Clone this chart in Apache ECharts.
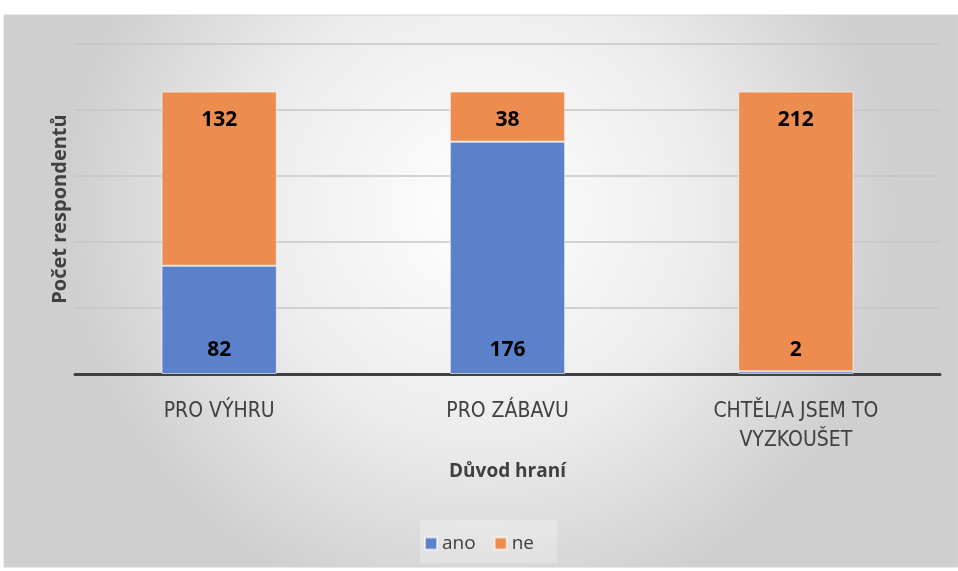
<!DOCTYPE html>
<html>
<head>
<meta charset="utf-8">
<script src="https://cdn.jsdelivr.net/npm/echarts@6/dist/echarts.min.js"></script>
<style>
  html, body { margin: 0; padding: 0; background: #fff; }
  #chart { width: 958px; height: 571px; }
</style>
</head>
<body>
<div id="chart"></div>
<script>
// data
const categories = ['PRO VÝHRU', 'PRO ZÁBAVU', 'CHTĚL/A JSEM TO\nVYZKOUŠET'];
const anoValues = [82, 176, 2];
const neValues = [132, 38, 212];

const myChart = echarts.init(document.getElementById('chart'));

const labelFont = 'Open Sans, Noto Sans, sans-serif';

const option = {
  animation: false,
  graphic: [
    {
      type: 'rect',
      z: -10,
      shape: { x: 4, y: 15, width: 954, height: 552 },
      style: {
        fill: {
          type: 'radial', x: 0.5, y: 0.35, r: 0.75,
          colorStops: [
            { offset: 0, color: '#ffffff' },
            { offset: 0.55, color: '#ececec' },
            { offset: 1, color: '#cfcfcf' }
          ]
        },
        stroke: '#d4d4d4',
        lineWidth: 1
      }
    },
    {
      type: 'rect',
      z: -5,
      shape: { x: 420, y: 520, width: 137, height: 43 },
      style: { fill: 'rgba(255,255,255,0.25)' }
    }
  ],
  grid: { left: 75, right: 18, top: 44, bottom: 197 },
  legend: {
    bottom: 13,
    left: 'center',
    itemWidth: 12,
    itemHeight: 12,
    itemGap: 18,
    icon: 'rect',
    textStyle: { fontSize: 19, color: '#404040', fontFamily: labelFont },
    data: ['ano', 'ne']
  },
  xAxis: {
    type: 'category',
    data: categories,
    name: 'Důvod hraní',
    nameLocation: 'middle',
    nameGap: 88,
    nameTextStyle: { fontSize: 19, fontWeight: 'bold', color: '#404040', fontFamily: labelFont },
    axisLine: { lineStyle: { color: '#404040', width: 3 } },
    axisTick: { show: false },
    axisLabel: {
      fontSize: 21,
      color: '#404040',
      margin: 23,
      lineHeight: 29,
      fontFamily: 'Liberation Sans Narrow, DejaVu Sans Condensed, sans-serif'
    }
  },
  yAxis: {
    type: 'value',
    min: 0,
    max: 250,
    interval: 50,
    name: 'Počet respondentů',
    nameLocation: 'middle',
    nameGap: 5,
    nameTextStyle: { fontSize: 20, fontWeight: 'bold', color: '#404040', fontFamily: labelFont },
    axisLabel: { show: false },
    axisLine: { show: false },
    axisTick: { show: false },
    splitLine: { lineStyle: { color: '#c6c6c6', width: 1.5 } }
  },
  series: [
    {
      name: 'ano',
      type: 'bar',
      stack: 'total',
      data: anoValues,
      barWidth: '40%',
      itemStyle: { color: '#5b81cb', borderColor: 'rgba(255,255,255,0.6)', borderWidth: 1 },
      label: {
        show: true,
        position: 'insideBottom',
        distance: 13,
        fontSize: 21,
        fontWeight: 'bold',
        color: '#000',
        fontFamily: labelFont
      }
    },
    {
      name: 'ne',
      type: 'bar',
      stack: 'total',
      data: neValues,
      barWidth: '40%',
      itemStyle: { color: '#ec8c4f', borderColor: 'rgba(255,255,255,0.6)', borderWidth: 1 },
      label: {
        show: true,
        position: 'insideTop',
        distance: 18,
        fontSize: 21,
        fontWeight: 'bold',
        color: '#000',
        fontFamily: labelFont
      }
    }
  ]
};

myChart.setOption(option);
</script>
</body>
</html>
